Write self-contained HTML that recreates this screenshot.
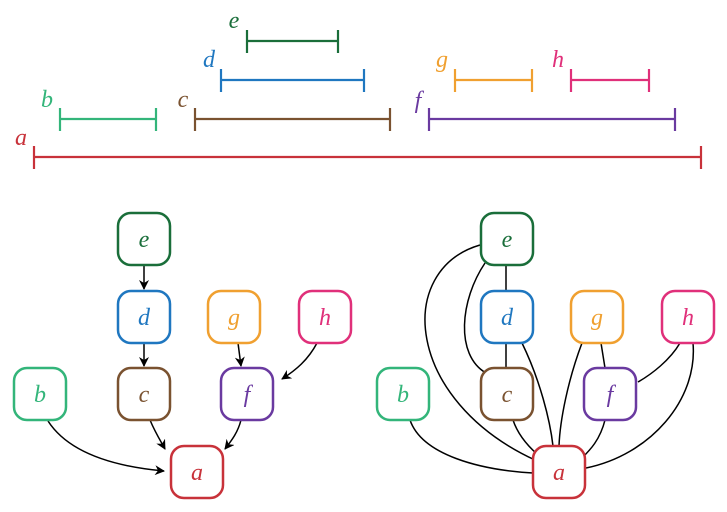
<!DOCTYPE html>
<html><head><meta charset="utf-8"><style>
html,body{margin:0;padding:0;background:#fff;}
svg{display:block;}
text{font-family:"Liberation Serif","DejaVu Serif",serif;font-style:italic;font-size:24px;text-anchor:middle;}
</style></head><body>
<svg width="727" height="512" viewBox="0 0 727 512" xmlns="http://www.w3.org/2000/svg">
<defs>
<marker id="ar" markerWidth="10" markerHeight="10" refX="9" refY="5" orient="auto" markerUnits="userSpaceOnUse">
<path d="M0,0 L10,5 L0,10 L3,5 z" fill="#000"/></marker>
</defs>
<g stroke-width="2.2" fill="none">
<g stroke="#c8323a"><line x1="34" y1="157" x2="701" y2="157"/><line x1="34" y1="146" x2="34" y2="169"/><line x1="701" y1="146" x2="701" y2="169"/></g>
<g stroke="#33b57a"><line x1="60" y1="119" x2="156" y2="119"/><line x1="60" y1="108" x2="60" y2="131"/><line x1="156" y1="108" x2="156" y2="131"/></g>
<g stroke="#7a5230"><line x1="195" y1="119" x2="390" y2="119"/><line x1="195" y1="108" x2="195" y2="131"/><line x1="390" y1="108" x2="390" y2="131"/></g>
<g stroke="#1f77c0"><line x1="221" y1="80" x2="364" y2="80"/><line x1="221" y1="69" x2="221" y2="92"/><line x1="364" y1="69" x2="364" y2="92"/></g>
<g stroke="#1a6e3a"><line x1="247" y1="41" x2="338" y2="41"/><line x1="247" y1="30" x2="247" y2="53"/><line x1="338" y1="30" x2="338" y2="53"/></g>
<g stroke="#6a3aa0"><line x1="429" y1="119" x2="675" y2="119"/><line x1="429" y1="108" x2="429" y2="131"/><line x1="675" y1="108" x2="675" y2="131"/></g>
<g stroke="#f0a030"><line x1="455" y1="80" x2="532" y2="80"/><line x1="455" y1="69" x2="455" y2="92"/><line x1="532" y1="69" x2="532" y2="92"/></g>
<g stroke="#e0307a"><line x1="571" y1="80" x2="649" y2="80"/><line x1="571" y1="69" x2="571" y2="92"/><line x1="649" y1="69" x2="649" y2="92"/></g>
</g>
<text x="21" y="145" fill="#c8323a">a</text>
<text x="47" y="107" fill="#33b57a">b</text>
<text x="183" y="107" fill="#7a5230">c</text>
<text x="209" y="67" fill="#1f77c0">d</text>
<text x="234" y="28" fill="#1a6e3a">e</text>
<text x="418" y="108" fill="#6a3aa0">f</text>
<text x="442" y="67" fill="#f0a030">g</text>
<text x="558" y="67" fill="#e0307a">h</text>

<g stroke="#000" stroke-width="1.5" fill="none" marker-end="url(#ar)">
<line x1="144" y1="265" x2="144" y2="289"/>
<line x1="144" y1="343" x2="144" y2="366"/>
<line x1="238" y1="343" x2="241" y2="366"/>
<path d="M317,343 C308,360 296,370 282,379"/>
<path d="M150,420 C155,432 160,440 165,449"/>
<path d="M241,420 C238,432 232,440 225,449"/>
<path d="M48,421 C70,455 120,467 164,471"/>
</g>
<g stroke="#000" stroke-width="1.5" fill="none">
<path d="M480,245 C395,270 405,400 535,460"/>
<path d="M485,263 C460,300 455,355 486,373"/>
<line x1="506" y1="265" x2="506" y2="291"/>
<line x1="506" y1="343" x2="506" y2="368"/>
<path d="M522,343 C540,380 550,420 553,446"/>
<path d="M513,420 C518,435 528,446 537,454"/>
<path d="M582,343 C568,380 560,420 559,446"/>
<line x1="601" y1="343" x2="605" y2="368"/>
<path d="M680,343 C670,360 652,374 638,382"/>
<path d="M693,343 C698,400 650,455 586,468"/>
<path d="M605,420 C600,440 590,450 582,458"/>
<path d="M410,420 C422,455 480,470 533,473"/>
</g>
<g stroke-width="2.5" fill="#fff">
<rect x="118" y="213" width="52" height="52" rx="13" stroke="#1a6e3a"/>
<rect x="118" y="291" width="52" height="52" rx="13" stroke="#1f77c0"/>
<rect x="208" y="291" width="52" height="52" rx="13" stroke="#f0a030"/>
<rect x="299" y="291" width="52" height="52" rx="13" stroke="#e0307a"/>
<rect x="14" y="368" width="52" height="52" rx="13" stroke="#33b57a"/>
<rect x="118" y="368" width="52" height="52" rx="13" stroke="#7a5230"/>
<rect x="221" y="368" width="52" height="52" rx="13" stroke="#6a3aa0"/>
<rect x="171" y="446" width="52" height="52" rx="13" stroke="#c8323a"/>

<rect x="481" y="213" width="52" height="52" rx="13" stroke="#1a6e3a"/>
<rect x="481" y="291" width="52" height="52" rx="13" stroke="#1f77c0"/>
<rect x="571" y="291" width="52" height="52" rx="13" stroke="#f0a030"/>
<rect x="662" y="291" width="52" height="52" rx="13" stroke="#e0307a"/>
<rect x="377" y="368" width="52" height="52" rx="13" stroke="#33b57a"/>
<rect x="481" y="368" width="52" height="52" rx="13" stroke="#7a5230"/>
<rect x="584" y="368" width="52" height="52" rx="13" stroke="#6a3aa0"/>
<rect x="533" y="446" width="52" height="52" rx="13" stroke="#c8323a"/>
</g>
<g>
<text x="144" y="247" fill="#1a6e3a">e</text>
<text x="144" y="325" fill="#1f77c0">d</text>
<text x="234" y="325" fill="#f0a030">g</text>
<text x="325" y="325" fill="#e0307a">h</text>
<text x="40" y="402" fill="#33b57a">b</text>
<text x="144" y="402" fill="#7a5230">c</text>
<text x="247" y="402" fill="#6a3aa0">f</text>
<text x="197" y="480" fill="#c8323a">a</text>

<text x="507" y="247" fill="#1a6e3a">e</text>
<text x="507" y="325" fill="#1f77c0">d</text>
<text x="597" y="325" fill="#f0a030">g</text>
<text x="688" y="325" fill="#e0307a">h</text>
<text x="403" y="402" fill="#33b57a">b</text>
<text x="507" y="402" fill="#7a5230">c</text>
<text x="610" y="402" fill="#6a3aa0">f</text>
<text x="559" y="480" fill="#c8323a">a</text>
</g>
</svg>
</body></html>
